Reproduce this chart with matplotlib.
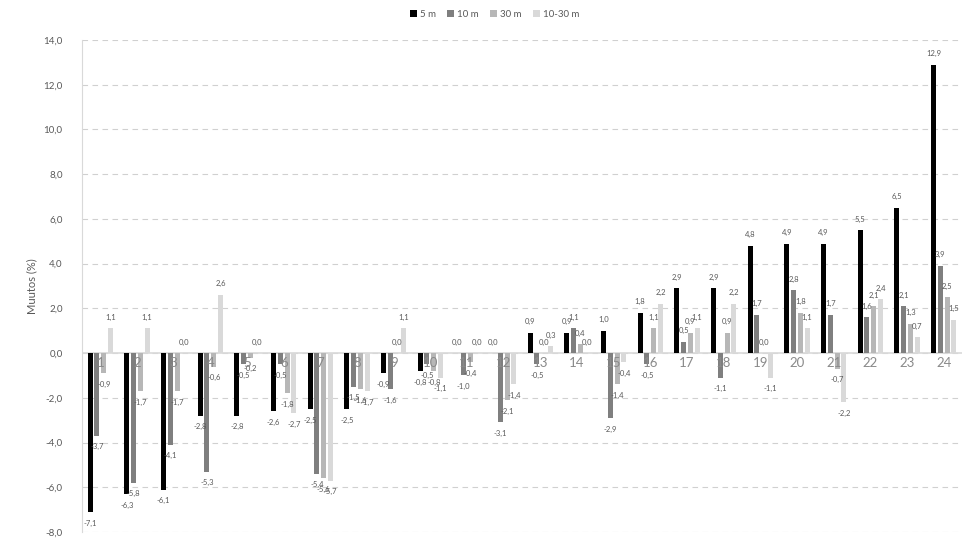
import numpy as np
import matplotlib
matplotlib.use("Agg")
from matplotlib import pyplot as plt

#+++++
groups = [str(i) for i in range(1, 25)]
series = ["5 m", "10 m", "30 m", "10-30 m"]
m5 = [-7.1, -6.3, -6.1, -2.8, -2.8, -2.6, -2.5, -2.5, -0.9, -0.8, 0.0, 0.0,
      0.9, 0.9, 1.0, 1.8, 2.9, 2.9, 4.8, 4.9, 4.9, 5.5, 6.5, 12.9]
m10 = [-3.7, -5.8, -4.1, -5.3, -0.5, -0.5, -5.4, -1.5, -1.6, -0.5, -1.0, -3.1,
       -0.5, 1.1, -2.9, -0.5, 0.5, -1.1, 1.7, 2.8, 1.7, 1.6, 2.1, 3.9]
m30 = [-0.9, -1.7, -1.7, -0.6, -0.2, -1.8, -5.6, -1.6, 0.0, -0.8, -0.4, -2.1,
       0.0, 0.4, -1.4, 1.1, 0.9, 0.9, 0.0, 1.8, -0.7, 2.1, 1.3, 2.5]
m10_30 = [1.1, 1.1, 0.0, 2.6, 0.0, -2.7, -5.7, -1.7, 1.1, -1.1, 0.0, -1.4,
          0.3, 0.0, -0.4, 2.2, 1.1, 2.2, -1.1, 1.1, -2.2, 2.4, 0.7, 1.5]
yticks = np.arange(-8, 14.1, 2)
#-----

colors = ["#000000", "#7f7f7f", "#b7b7b7", "#d9d9d9"]
txt = "#595959"
plt.rcParams["font.family"] = ["Lato", "DejaVu Sans"]

fig = plt.figure(figsize=(9.68, 5.44), dpi=100)
ax = fig.add_axes([82/968, 12/544, 880/968, 492/544])

x = np.arange(len(groups))
step, width = 0.186, 0.136
for k, (name, vals, c) in enumerate(zip(series, [m5, m10, m30, m10_30], colors)):
    pos = x + (k - 1.5) * step
    ax.bar(pos, vals, width=width, color=c, label=name, zorder=3)
    for xp, v in zip(pos, vals):
        off = -8 if v < 0 else 8
        ax.annotate(f"{v:.1f}".replace(".", ","), (xp, v), xytext=(0, off),
                    textcoords="offset points", ha="center", va="center",
                    fontsize=5.5, color=txt, zorder=4)

# category labels sit on the zero line
for xi, g in zip(x, groups):
    ax.annotate(g, (xi, 0), xytext=(0, -3), textcoords="offset points",
                ha="center", va="top", fontsize=9.5, color="#8a8a8a", zorder=5)

ax.set_xlim(-0.5, len(groups) - 0.5)
ax.set_ylim(-8, 14)
ax.set_yticks(yticks)
ax.set_yticklabels([f"{t:.1f}".replace(".", ",") for t in yticks])
ax.set_xticks([])
ax.tick_params(axis="y", length=0, labelsize=7, labelcolor=txt, pad=14)
ax.yaxis.grid(True, color="#d0d0d0", linestyle=(0, (5, 4)), linewidth=0.8, zorder=0)
ax.axhline(0, color="#d9d9d9", linewidth=1.2, zorder=2)
for s in ["top", "right", "bottom"]:
    ax.spines[s].set_visible(False)
ax.spines["left"].set_color("#d9d9d9")
ax.set_ylabel("Muutos (%)", fontsize=8, color=txt, labelpad=4)

fig.legend(loc="center", bbox_to_anchor=(0.511, 0.974), ncol=4, frameon=False,
           fontsize=7, labelcolor=txt, handlelength=0.7, handleheight=0.7,
           handletextpad=0.3, columnspacing=1.2)

fig.savefig("out.png", dpi=100)
